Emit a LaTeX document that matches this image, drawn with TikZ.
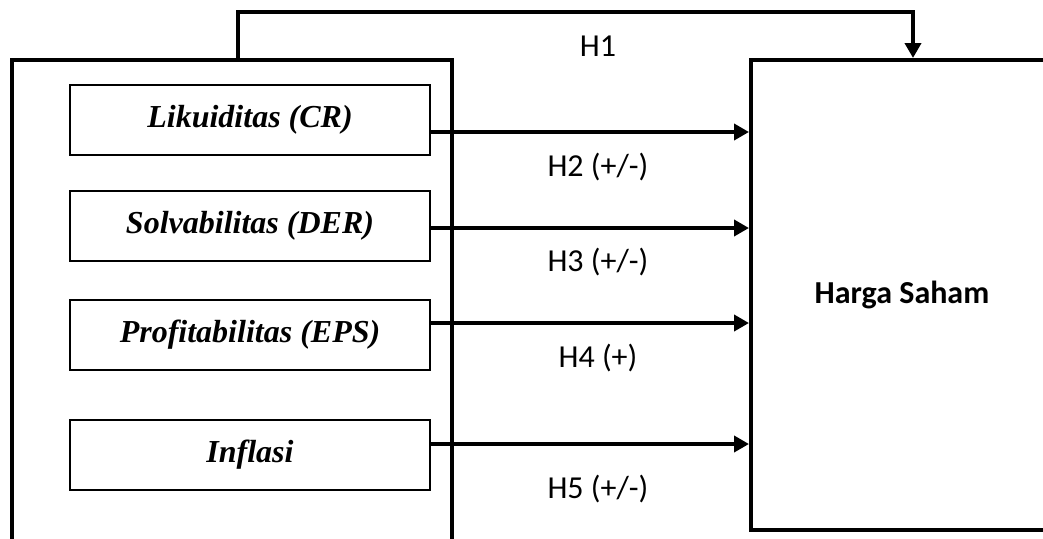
\documentclass[tikz,border=0pt]{standalone}
\usepackage{fontspec}
\setmainfont{Liberation Serif}
\newfontfamily\carlfont{Carlito}
\usetikzlibrary{arrows.meta}
\tikzset{
  bigbox/.style={draw, line width=4pt, inner sep=0pt},
  varbox/.style={draw, line width=2pt, minimum width=360pt, minimum height=70pt, inner sep=0pt,
    font=\fontsize{32}{38}\selectfont\bfseries\itshape},
  arr/.style={line width=4pt, -{Triangle[length=15pt,width=16pt]}},
  lbl/.style={font=\carlfont\fontsize{32}{38}\selectfont, inner sep=0pt},
}
\begin{document}
\begin{tikzpicture}[x=1pt,y=-1pt]
\useasboundingbox (0,0) rectangle (1043,538);
\clip (0,0) rectangle (1043,538);
\node[bigbox, minimum width=440pt, minimum height=520pt] (grp) at (232,320) {};
\node[bigbox, minimum width=302pt, minimum height=470pt,
  font=\carlfont\fontsize{32}{38}\selectfont\bfseries] (hs) at (902,295) {Harga Saham};
\node[varbox] (cr) at (250,119.5) {Likuiditas (CR)};
\node[varbox] (der) at (250,225.5) {Solvabilitas (DER)};
\node[varbox] (eps) at (250,335) {Profitabilitas (EPS)};
\node[varbox] (inf) at (250,455) {Inflasi};
\coordinate (a1) at (0,132);
\coordinate (a2) at (0,228);
\coordinate (a3) at (0,323);
\coordinate (a4) at (0,444);
\draw[arr] (cr.east |- a1) -- (hs.west |- a1);
\draw[arr] (der.east |- a2) -- (hs.west |- a2);
\draw[arr] (eps.east |- a3) -- (hs.west |- a3);
\draw[arr] (inf.east |- a4) -- (hs.west |- a4);
\coordinate (t1) at (238,12);
\coordinate (t2) at (913,12);
\draw[arr] (grp.north -| t1) -- (t1) -- (t2) -- (hs.north -| t2);
\node[lbl] (h1) at (598,46) {H1};
\node[lbl] (h2) at (598,167) {H2 (+/-)};
\node[lbl] (h3) at (598,262) {H3 (+/-)};
\node[lbl] (h4) at (598,358) {H4 (+)};
\node[lbl] (h5) at (598,489) {H5 (+/-)};
\end{tikzpicture}
\end{document}
